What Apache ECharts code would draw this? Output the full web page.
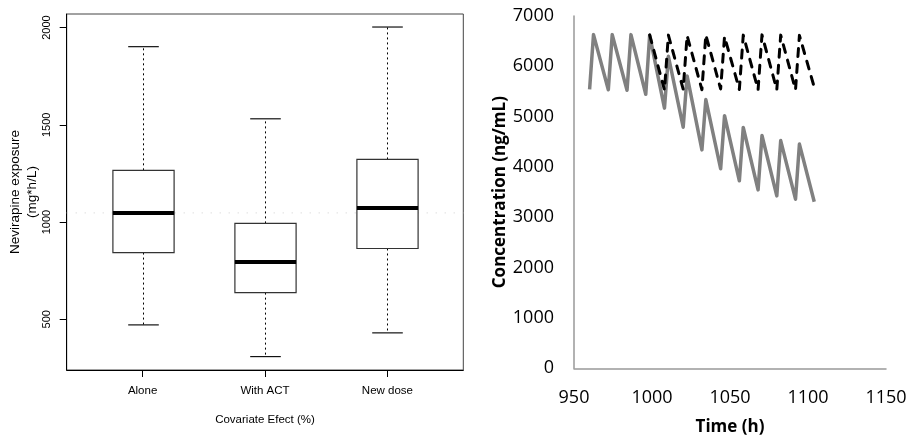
<!DOCTYPE html>
<html><head><meta charset="utf-8">
<script src="https://cdn.jsdelivr.net/npm/echarts@6/dist/echarts.min.js"></script>
<style>html,body{margin:0;padding:0;background:#fff}#c{width:911px;height:436px}</style>
</head><body><div id="c"></div>
<script>
// ---- Left panel: box plot data ----
const categories = ['Alone', 'With ACT', 'New dose'];
const catPos = [1, 2, 3];
const boxMin = [471, 308, 430];
const boxQ1 = [843, 637, 864];
const boxMedian = [1047, 794, 1072];
const boxQ3 = [1266, 993, 1322];
const boxMax = [1902, 1531, 2003];
const refLine = 1047;
const leftYTicks = [500, 1000, 1500, 2000];

// ---- Right panel: concentration-time data ----
const greyTime = [960, 962.5, 972, 974.5, 984, 986.5, 996, 998.5, 1008, 1010.5, 1020, 1022.5, 1032, 1034.5, 1044, 1046.5, 1056, 1058.5, 1068, 1070.5, 1080, 1082.5, 1092, 1094.5, 1104];
const greyConc = [5540, 6630, 5535, 6630, 5525, 6630, 5445, 6615, 5170, 6200, 4790, 5810, 4340, 5340, 3965, 5020, 3725, 4785, 3545, 4625, 3425, 4525, 3360, 4455, 3310];
const dashTime = [998.5, 1008, 1010.5, 1020, 1022.5, 1032, 1034.5, 1044, 1046.5, 1056, 1058.5, 1068, 1070.5, 1080, 1082.5, 1092, 1094.5, 1103.5];
const dashConc = [6625, 5530, 6620, 5545, 6610, 5535, 6625, 5550, 6590, 5540, 6620, 5535, 6625, 5535, 6620, 5535, 6615, 5640];

const X_MIN = 0.38, X_MAX = 3.62;

const boxData = catPos.map((p, i) => [p, boxMin[i], boxQ1[i], boxMedian[i], boxQ3[i], boxMax[i]]);
const greyData = greyTime.map((t, i) => [t, greyConc[i]]);
const dashData = dashTime.map((t, i) => [t, dashConc[i]]);

function renderBox(params, api) {
  const x = api.value(0);
  const lo = api.coord([x, api.value(1)]);
  const q1 = api.coord([x, api.value(2)]);
  const med = api.coord([x, api.value(3)]);
  const q3 = api.coord([x, api.value(4)]);
  const hi = api.coord([x, api.value(5)]);
  const boxW = api.size([0.5, 0])[0];
  const capW = api.size([0.25, 0])[0];
  const cx = Math.round(lo[0]) + 0.5;
  const dashStyle = { stroke: '#000', lineWidth: 1, lineDash: [2, 3] };
  const solid = { stroke: '#111', lineWidth: 1.2 };
  return {
    type: 'group',
    children: [
      { type: 'line', shape: { x1: cx, y1: q3[1], x2: cx, y2: hi[1] }, style: dashStyle },
      { type: 'line', shape: { x1: cx, y1: q1[1], x2: cx, y2: lo[1] }, style: dashStyle },
      { type: 'line', shape: { x1: cx - capW / 2, y1: hi[1], x2: cx + capW / 2, y2: hi[1] }, style: solid },
      { type: 'line', shape: { x1: cx - capW / 2, y1: lo[1], x2: cx + capW / 2, y2: lo[1] }, style: solid },
      { type: 'rect', shape: { x: cx - boxW / 2, y: q3[1], width: boxW, height: q1[1] - q3[1] }, style: { fill: '#fff', stroke: '#333', lineWidth: 1.2 } },
      { type: 'line', shape: { x1: cx - boxW / 2, y1: med[1], x2: cx + boxW / 2, y2: med[1] }, style: { stroke: '#000', lineWidth: 4 } }
    ]
  };
}

const LF = 'Liberation Sans, Arial, Helvetica, sans-serif';
const RF = 'Open Sans, Noto Sans, sans-serif';
const plain = v => String(v);

const option = {
  animation: false,
  backgroundColor: '#fff',
  grid: [
    { left: 66.7, top: 14, width: 396.6, height: 356, show: true, borderColor: '#444', borderWidth: 1, backgroundColor: 'transparent', outerBoundsMode: 'none', containLabel: false },
    { left: 574, top: 16, width: 312, height: 352.3, outerBoundsMode: 'none', containLabel: false }
  ],
  xAxis: [
    {
      gridIndex: 0, type: 'value', min: X_MIN, max: X_MAX,
      axisLine: { show: true, lineStyle: { color: '#000', width: 1 } },
      axisTick: { show: true, customValues: catPos, length: 7, lineStyle: { color: '#000' } },
      axisLabel: { customValues: catPos, formatter: v => categories[catPos.indexOf(Math.round(v))] || '', margin: 15, fontFamily: LF, fontSize: 11.5, color: '#000' },
      splitLine: { show: false },
      name: 'Covariate Efect (%)', nameLocation: 'middle', nameGap: 44,
      nameTextStyle: { fontFamily: LF, fontSize: 11.5, color: '#000' }
    },
    {
      gridIndex: 1, type: 'value', min: 950, max: 1150, interval: 50,
      axisLine: { show: true, lineStyle: { color: '#999', width: 1.5 } },
      axisTick: { show: false },
      axisLabel: { margin: 21, formatter: plain, fontFamily: RF, fontSize: 18, color: '#000' },
      splitLine: { show: false },
      name: 'Time (h)', nameLocation: 'middle', nameGap: 50,
      nameTextStyle: { fontFamily: RF, fontSize: 17, fontWeight: 'bold', color: '#000' }
    }
  ],
  yAxis: [
    {
      gridIndex: 0, type: 'value', min: 239, max: 2070,
      axisLine: { show: true, lineStyle: { color: '#000', width: 1 } },
      axisTick: { show: true, customValues: leftYTicks, length: 7, lineStyle: { color: '#000' } },
      axisLabel: { customValues: leftYTicks, formatter: plain, rotate: 90, margin: 14, fontFamily: LF, fontSize: 11, color: '#000' },
      splitLine: { show: false },
      name: 'Nevirapine exposure\n(mg*h/L)', nameLocation: 'middle', nameRotate: 90, nameGap: 23,
      nameTextStyle: { fontFamily: LF, fontSize: 13.5, color: '#000', lineHeight: 17, align: 'center' }
    },
    {
      gridIndex: 1, type: 'value', min: 0, max: 7000, interval: 1000,
      axisLine: { show: true, lineStyle: { color: '#999', width: 1.5 } },
      axisTick: { show: false },
      axisLabel: { margin: 20, formatter: plain, fontFamily: RF, fontSize: 18, color: '#000' },
      splitLine: { show: false },
      name: 'Concentration (ng/mL)', nameLocation: 'middle', nameRotate: 90, nameGap: 64,
      nameTextStyle: { fontFamily: RF, fontSize: 17, fontWeight: 'bold', color: '#000' }
    }
  ],
  series: [
    {
      type: 'line', xAxisIndex: 0, yAxisIndex: 0, z: 1,
      data: [[X_MIN, refLine], [X_MAX, refLine]], symbol: 'none', silent: true,
      lineStyle: { color: '#cfcfcf', width: 1, type: [1, 8] }
    },
    {
      type: 'custom', xAxisIndex: 0, yAxisIndex: 0, z: 3,
      renderItem: renderBox, data: boxData, encode: { x: 0, y: [1, 2, 3, 4, 5] }
    },
    {
      type: 'line', xAxisIndex: 1, yAxisIndex: 1, z: 2,
      data: greyData, symbol: 'none',
      lineStyle: { color: '#808080', width: 3.5, join: 'round' }
    },
    {
      type: 'line', xAxisIndex: 1, yAxisIndex: 1, z: 3,
      data: dashData, symbol: 'none',
      lineStyle: { color: '#000', width: 3, type: [8, 8], cap: 'round', join: 'round' }
    }
  ]
};

const chart = echarts.init(document.getElementById('c'), null, { renderer: 'canvas' });
chart.setOption(option);
</script>
</body></html>
